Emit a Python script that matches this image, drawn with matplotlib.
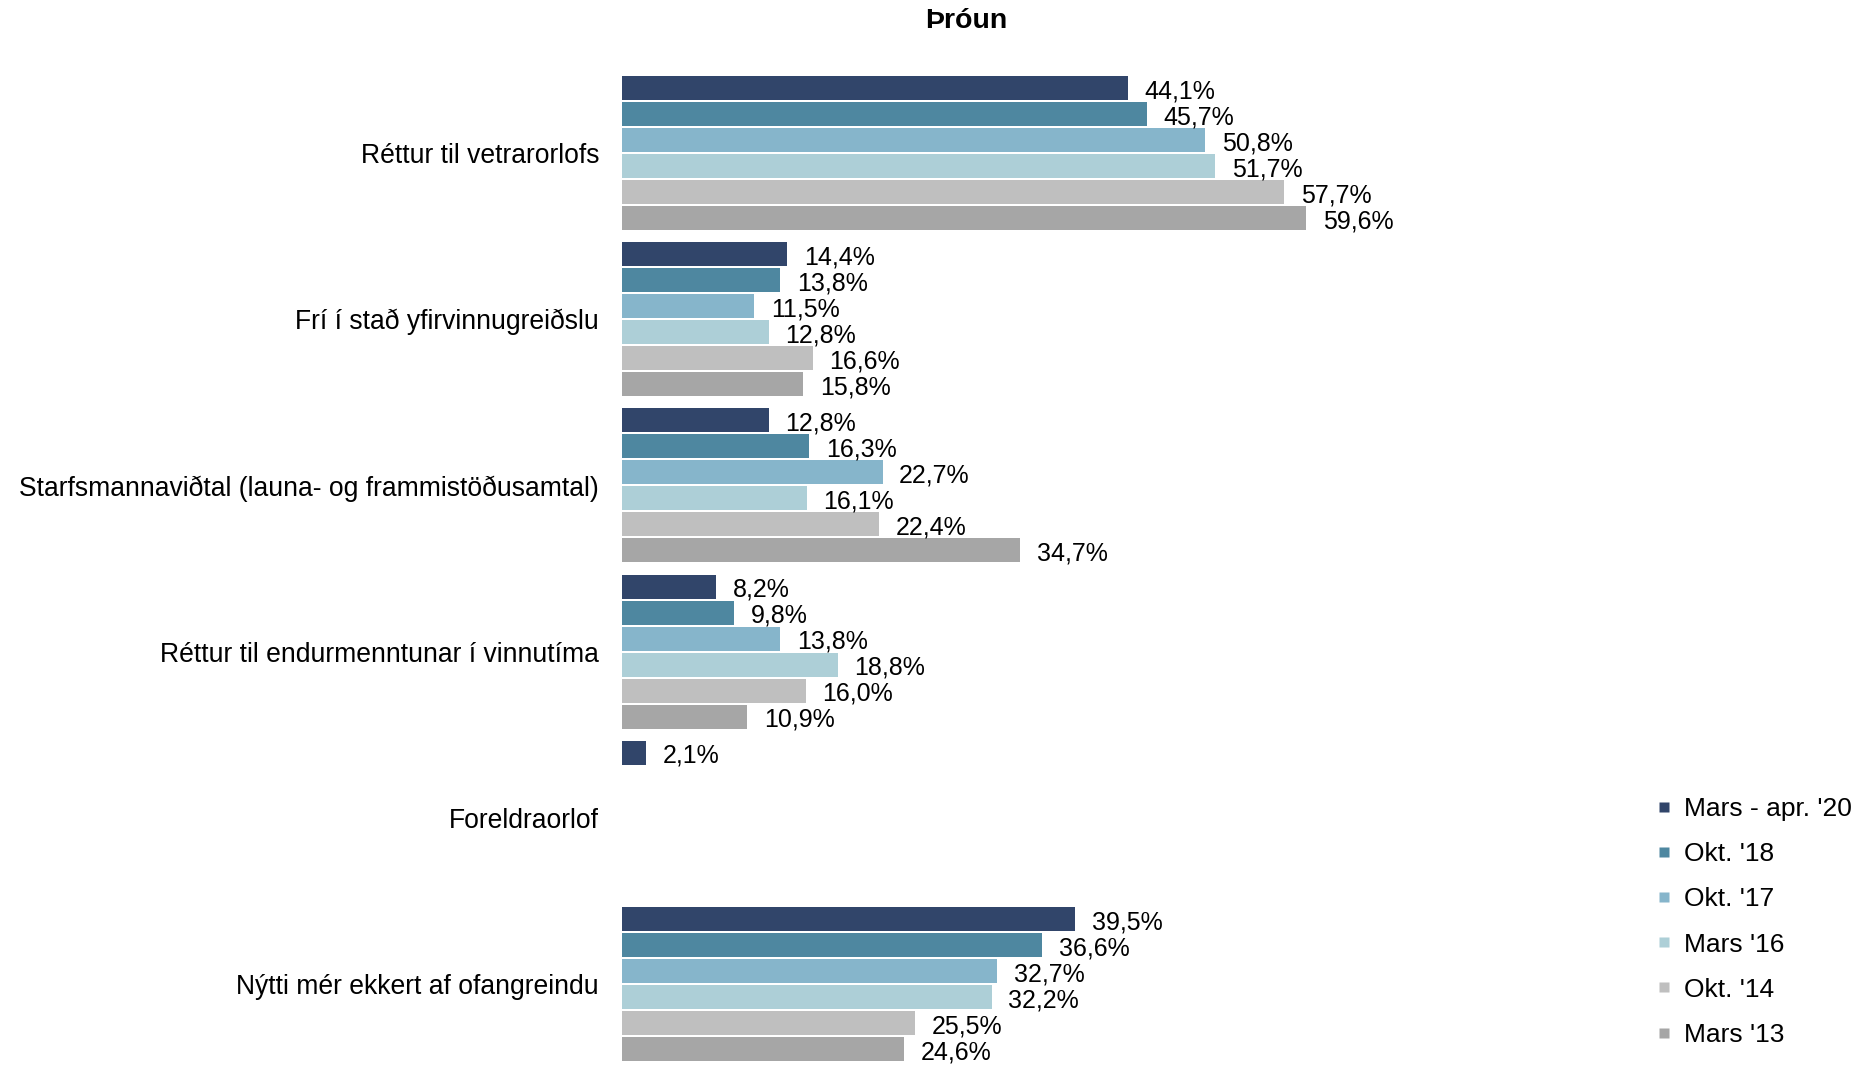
import numpy as np
import matplotlib
matplotlib.use("Agg")
import matplotlib.pyplot as plt
from matplotlib.lines import Line2D

plt.rcParams['font.family'] = ['Liberation Sans', 'DejaVu Sans']

# flokkar (efst til nedst)
flokkar = ["Réttur til vetrarorlofs",
           "Frí í stað yfirvinnugreiðslu",
           "Starfsmannaviðtal (launa- og frammistöðusamtal)",
           "Réttur til endurmenntunar í vinnutíma",
           "Foreldraorlof",
           "Nýtti mér ekkert af ofangreindu"]

timabil = ["Mars - apr. '20", "Okt. '18", "Okt. '17", "Mars '16", "Okt. '14", "Mars '13"]

mars_apr_20 = [44.1, 14.4, 12.8, 8.2, 2.1, 39.5]
okt_18 = [45.7, 13.8, 16.3, 9.8, np.nan, 36.6]
okt_17 = [50.8, 11.5, 22.7, 13.8, np.nan, 32.7]
mars_16 = [51.7, 12.8, 16.1, 18.8, np.nan, 32.2]
okt_14 = [57.7, 16.6, 22.4, 16.0, np.nan, 25.5]
mars_13 = [59.6, 15.8, 34.7, 10.9, np.nan, 24.6]

rodir = [mars_apr_20, okt_18, okt_17, mars_16, okt_14, mars_13]
litir = ["#31456A", "#4E87A0", "#86B5CB", "#ADCFD7", "#BFBFBF", "#A6A6A6"]

fig = plt.figure(figsize=(18.65, 10.66), dpi=100)
ax = fig.add_axes([622/1865, -0.001, 1033/1865, 997.2/1066])

skref = 0.1564
haed = 0.1444
y = np.arange(len(flokkar))

for j, (gildi, litur) in enumerate(zip(rodir, litir)):
    gildi = np.array(gildi, dtype=float)
    m = ~np.isnan(gildi)
    yp = y[m] + (j - 2.5) * skref
    ax.barh(yp, gildi[m], height=haed, color=litur, edgecolor='none')
    # gildismerki med kommu
    for v, yy in zip(gildi[m], yp):
        ax.annotate(f"{v:.1f}".replace('.', ',') + "%", xy=(v, yy),
                    xytext=(12, -2.2), textcoords='offset points',
                    va='center', ha='left', fontsize=18)

ax.set_xlim(0, 90)
ax.set_ylim(5.5, -0.5)
ax.set_yticks(y)
ax.set_yticklabels(flokkar, fontsize=19.1)
ax.tick_params(axis='y', length=0, pad=16.5)
ax.set_xticks([])
for s in ax.spines.values():
    s.set_visible(False)

fig.text(0.518, 1 - 21/1066, "Þróun", ha='center', va='center',
         fontsize=20.5, fontweight='bold')

handles = [Line2D([], [], marker='s', linestyle='none', markersize=7,
                  markerfacecolor=c, markeredgecolor='none') for c in litir]
fig.legend(handles, timabil, loc='center left',
           bbox_to_anchor=(1656/1865, 1 - 922/1066), frameon=False,
           fontsize=19, handlelength=0.6, handletextpad=0.45,
           labelspacing=0.80, borderpad=0, borderaxespad=0)

fig.savefig("out.png", dpi=100)
